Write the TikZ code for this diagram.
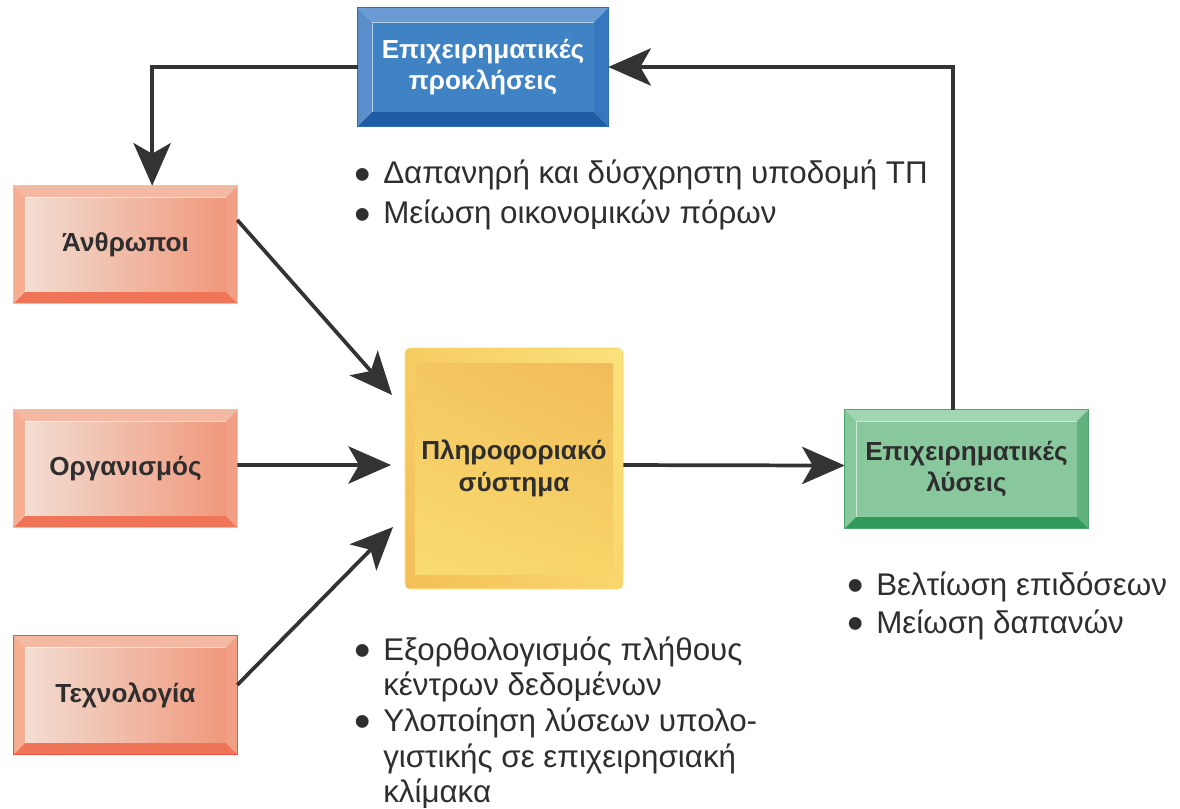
\documentclass[tikz,border=0pt]{standalone}
\usepackage{fontspec}
\usepackage{graphicx}
\setmainfont{Liberation Sans}
\usetikzlibrary{arrows.meta,calc,shadings}
\pgfdeclarelayer{background}
\pgfsetlayers{background,main}
\definecolor{txt}{HTML}{2E2E2E}
\definecolor{lin}{HTML}{333333}
\definecolor{bTop}{HTML}{6A9BD3}\definecolor{bLeft}{HTML}{5A8FCC}\definecolor{bRight}{HTML}{3578C0}
\definecolor{bBot}{HTML}{1E5DA6}\definecolor{bIn}{HTML}{3F83C5}\definecolor{bBor}{HTML}{2C6DB8}
\definecolor{oTop}{HTML}{F4B9A3}\definecolor{oLeft}{HTML}{F7AD92}\definecolor{oRight}{HTML}{F2A085}
\definecolor{oBot}{HTML}{EF7458}\definecolor{oInL}{HTML}{F2DDD2}\definecolor{oInR}{HTML}{F0987C}
\definecolor{oBor}{HTML}{F6C28A}\definecolor{tBor}{HTML}{EE4F45}
\definecolor{gTop}{HTML}{A2D5B1}\definecolor{gLeft}{HTML}{86C99B}\definecolor{gRight}{HTML}{62B27E}
\definecolor{gBot}{HTML}{2F9A5A}\definecolor{gIn}{HTML}{89C79D}\definecolor{gBor}{HTML}{4FA56E}
\definecolor{yOutUL}{HTML}{F6CC62}\definecolor{yOutUR}{HTML}{FBE27C}
\definecolor{yOutLL}{HTML}{F3BF58}\definecolor{yOutLR}{HTML}{F9D66C}
\definecolor{yInUL}{HTML}{F4C760}\definecolor{yInUR}{HTML}{F1BC5A}
\definecolor{yInLL}{HTML}{F8DC70}\definecolor{yInLR}{HTML}{F7D468}
\newcommand\bul{\makebox[15.75pt][l]{\makebox[0pt][c]{\smash{\raisebox{-0.2em}{\scalebox{1.5}{\textbullet}}}}}}
% #1 name, #2 inset, #3 top, #4 left, #5 right, #6 bottom, #7 inner style, #8 border colour
\newcommand\bevelbox[8]{%
  \begin{pgfonlayer}{background}
  \fill[#3] (#1.north west) -- (#1.north east) -- ([shift={(-#2,-#2)}]#1.north east) -- ([shift={(#2,-#2)}]#1.north west) -- cycle;
  \fill[#4] (#1.north west) -- ([shift={(#2,-#2)}]#1.north west) -- ([shift={(#2,#2)}]#1.south west) -- (#1.south west) -- cycle;
  \fill[#5] (#1.north east) -- ([shift={(-#2,-#2)}]#1.north east) -- ([shift={(-#2,#2)}]#1.south east) -- (#1.south east) -- cycle;
  \fill[#6] (#1.south west) -- (#1.south east) -- ([shift={(-#2,#2)}]#1.south east) -- ([shift={(#2,#2)}]#1.south west) -- cycle;
  \path[#7] ([shift={(#2,-#2)}]#1.north west) rectangle ([shift={(-#2,#2)}]#1.south east);
  \draw[white, opacity=0.6, line width=0.8pt] ([shift={(#2,#2)}]#1.south west) -- ([shift={(#2,-#2)}]#1.north west) -- ([shift={(-#2,-#2)}]#1.north east);
  \draw[#8, line width=0.9pt] (#1.north west) rectangle (#1.south east);
  \end{pgfonlayer}}
\begin{document}
\begin{tikzpicture}[x=0.75pt,y=-0.75pt,
  box/.style={inner sep=0pt, align=center, text=txt, font=\fontsize{19.6}{23.5}\selectfont\bfseries},
  conn/.style={draw=lin, line width=2.8pt, -{Stealth[length=32pt,width=28pt,inset=8pt]}},
  list/.style={inner sep=0pt, text=txt, font=\fontsize{23.5}{#1}\selectfont},
  list/.default=27pt]
\useasboundingbox (0,0) rectangle (1180,809);

% boxes
\node[box, text=white, minimum width=187.5pt, minimum height=88.5pt] (chal) at (483,67) {Επιχειρηματικές\\προκλήσεις};
\node[box, minimum width=167.25pt, minimum height=87.75pt] (people) at (125.5,244.5) {Άνθρωποι};
\node[box, minimum width=167.25pt, minimum height=87.75pt] (org) at (125.5,468.5) {Οργανισμός};
\node[box, minimum width=167.25pt, minimum height=88.5pt] (tech) at (125.5,695) {Τεχνολογία};
\node[box, minimum width=163.5pt, minimum height=180.75pt] (is) at (514,468.5) {Πληροφοριακό\\σύστημα};
\node[box, minimum width=182.25pt, minimum height=88.5pt] (sol) at (966.5,469) {Επιχειρηματικές\\λύσεις};

\bevelbox{chal}{11pt}{bTop}{bLeft}{bRight}{bBot}{fill=bIn}{bBor}
\bevelbox{people}{8.5pt}{oTop}{oLeft}{oRight}{oBot}{left color=oInL,right color=oInR}{oBor}
\bevelbox{org}{8.5pt}{oTop}{oLeft}{oRight}{oBot}{left color=oInL,right color=oInR}{oBor}
\bevelbox{tech}{8.5pt}{oTop}{oLeft}{oRight}{oBot}{left color=oInL,right color=oInR}{tBor}
\bevelbox{sol}{8.5pt}{gTop}{gLeft}{gRight}{gBot}{fill=gIn}{gBor}

\begin{pgfonlayer}{background}
  \fill[yOutLR, rounded corners=4pt] (is.north west) rectangle (is.south east);
  \shade[upper left=yOutUL, upper right=yOutUR, lower left=yOutLL, lower right=yOutLR]
    ([shift={(1.5pt,-1.5pt)}]is.north west) rectangle ([shift={(-1.5pt,1.5pt)}]is.south east);
  \shade[upper left=yInUL, upper right=yInUR, lower left=yInLL, lower right=yInLR]
    ([shift={(8pt,-12pt)}]is.north west) rectangle ([shift={(-8pt,11pt)}]is.south east);
\end{pgfonlayer}

% connectors
\draw[conn] (chal.west) -| ([xshift=20pt]people.north);
\draw[conn] ([xshift=-10pt]sol.north) |- (chal.east);
\coordinate (pin) at (392,395);
\coordinate (tin) at (393,527);
\coordinate (oin) at (391,465);
\draw[conn] ([yshift=18.4pt]people.east) -- (pin);
\draw[conn] ([yshift=2.6pt]org.east) -- (oin);
\draw[conn] ([yshift=7.5pt]tech.east) -- (tin);
\draw[conn] ([yshift=2.6pt]is.east) -- ([yshift=2.6pt]sol.west);

% bullet lists
\node[list=30pt, anchor=base west] (l1) at (362,184) {\begin{tabular}[t]{@{}l@{}l@{}}\bul & Δαπανηρή και δύσχρηστη υποδομή ΤΠ\\ \bul & Μείωση οικονομικών πόρων\end{tabular}};
\node[list=28.5pt, anchor=base west] (l2) at (855,595) {\begin{tabular}[t]{@{}l@{}l@{}}\bul & Βελτίωση επιδόσεων\\ \bul & Μείωση δαπανών\end{tabular}};
\node[list=26.8pt, anchor=base west] (l3) at (362,660) {\begin{tabular}[t]{@{}l@{}l@{}}\bul & Εξορθολογισμός πλήθους\\ & κέντρων δεδομένων\\ \bul & Υλοποίηση λύσεων υπολο-\\ & γιστικής σε επιχειρησιακή\\ & κλίμακα\end{tabular}};
\end{tikzpicture}
\end{document}
